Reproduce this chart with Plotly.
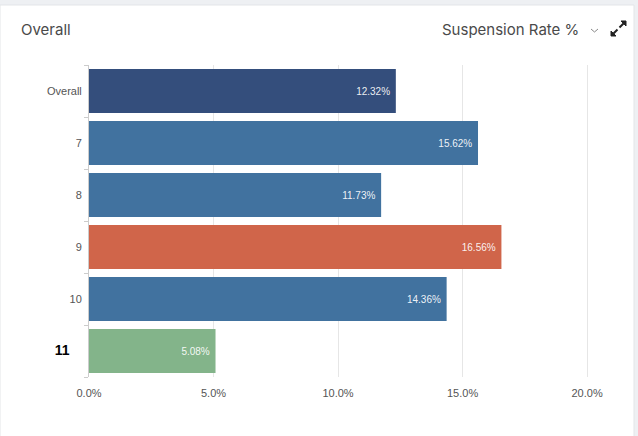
import plotly.graph_objects as go

categories = ["Overall", "7", "8", "9", "10", "11"]
rates = [12.32, 15.62, 11.73, 16.56, 14.36, 5.08]
bar_colors = ["#344e7c", "#41729f", "#41729f", "#d0654a", "#41729f", "#83b48a"]
tick_labels = ["Overall", "7", "8", "9", "10",
               '<span style="font-size:14px;color:#000000"><b>11</b></span>\u00a0\u00a0\u00a0\u00a0']
x_ticks = [0, 5, 10, 15, 20]

W, H = 638, 436
L, R, T, B = 89, 26, 65, 59
pw, ph = W - L - R, H - T - B

def px(x):
    return (x - L) / pw

def py(y):
    return (H - B - y) / ph

def path(points, close=False):
    s = "M " + " L ".join(f"{px(x):.5f},{py(y):.5f}" for x, y in points)
    return s + (" Z" if close else "")

fig = go.Figure()
fig.add_trace(go.Bar(
    x=rates, y=categories, orientation="h",
    marker=dict(color=bar_colors, line=dict(width=0)),
    text=[f"{v:.2f}%\u00a0" for v in rates],
    textposition="inside", insidetextanchor="end",
    textfont=dict(family="Liberation Sans, Arial, sans-serif", size=10, color="rgba(255,255,255,0.92)"),
    hoverinfo="skip",
))

icon_col = "#222222"
fig.update_layout(
    width=W, height=H,
    margin=dict(l=L, r=R, t=T, b=B, pad=0),
    paper_bgcolor="#eef0f3",
    plot_bgcolor="rgba(0,0,0,0)",
    bargap=0.15,
    showlegend=False,
    font=dict(family="Liberation Sans, Arial, sans-serif", size=11, color="#555555"),
    xaxis=dict(
        range=[0, 21], tickvals=x_ticks,
        ticktext=[f"{v:.1f}%" for v in x_ticks],
        showgrid=True, gridcolor="#e6e6e6", gridwidth=1,
        zeroline=False, showline=False, ticks="",
        tickfont=dict(size=11, color="#555555"),
        ticklabelstandoff=8,
        fixedrange=True,
    ),
    yaxis=dict(
        categoryorder="array", categoryarray=categories,
        tickvals=categories, ticktext=tick_labels,
        autorange="reversed",
        showline=True, linecolor="#cccccc", linewidth=1,
        ticks="outside", tickson="boundaries", ticklen=4, tickcolor="#cccccc",
        showgrid=False, zeroline=False,
        tickfont=dict(size=11, color="#555555"),
        ticklabelstandoff=4,
        fixedrange=True,
    ),
    shapes=[
        dict(type="rect", xref="paper", yref="paper", layer="below",
             x0=px(0), x1=px(634), y0=py(437), y1=py(5),
             fillcolor="#ffffff", line=dict(color="#e3e5e8", width=1)),
        # dropdown chevron
        dict(type="path", xref="paper", yref="paper",
             path=path([(591, 29), (594.5, 32), (598, 29)]),
             line=dict(color="#888888", width=1)),
        # expand icon: two outward arrows
        dict(type="path", xref="paper", yref="paper",
             path=path([(619.5, 27.5), (623.5, 23.5)]),
             line=dict(color=icon_col, width=2)),
        dict(type="path", xref="paper", yref="paper",
             path=path([(626, 21), (626, 26), (621, 21)], close=True),
             fillcolor=icon_col, line=dict(color=icon_col, width=1)),
        dict(type="path", xref="paper", yref="paper",
             path=path([(617.5, 29.5), (613.5, 33.5)]),
             line=dict(color=icon_col, width=2)),
        dict(type="path", xref="paper", yref="paper",
             path=path([(611, 36), (611, 31), (616, 36)], close=True),
             fillcolor=icon_col, line=dict(color=icon_col, width=1)),
    ],
    annotations=[
        dict(text="Overall", xref="paper", yref="paper", x=px(19), y=py(30),
             xanchor="left", yanchor="middle", showarrow=False,
             font=dict(family="Inter, Roboto, sans-serif", size=15, color="#4a4a4a")),
        dict(text="Suspension Rate %", xref="paper", yref="paper", x=px(581), y=py(30),
             xanchor="right", yanchor="middle", showarrow=False,
             font=dict(family="Inter, Roboto, sans-serif", size=15, color="#4a4a4a")),
    ],
)

fig.write_html("out.html", config={"displayModeBar": False},
               post_script="document.body.style.margin='0';")
